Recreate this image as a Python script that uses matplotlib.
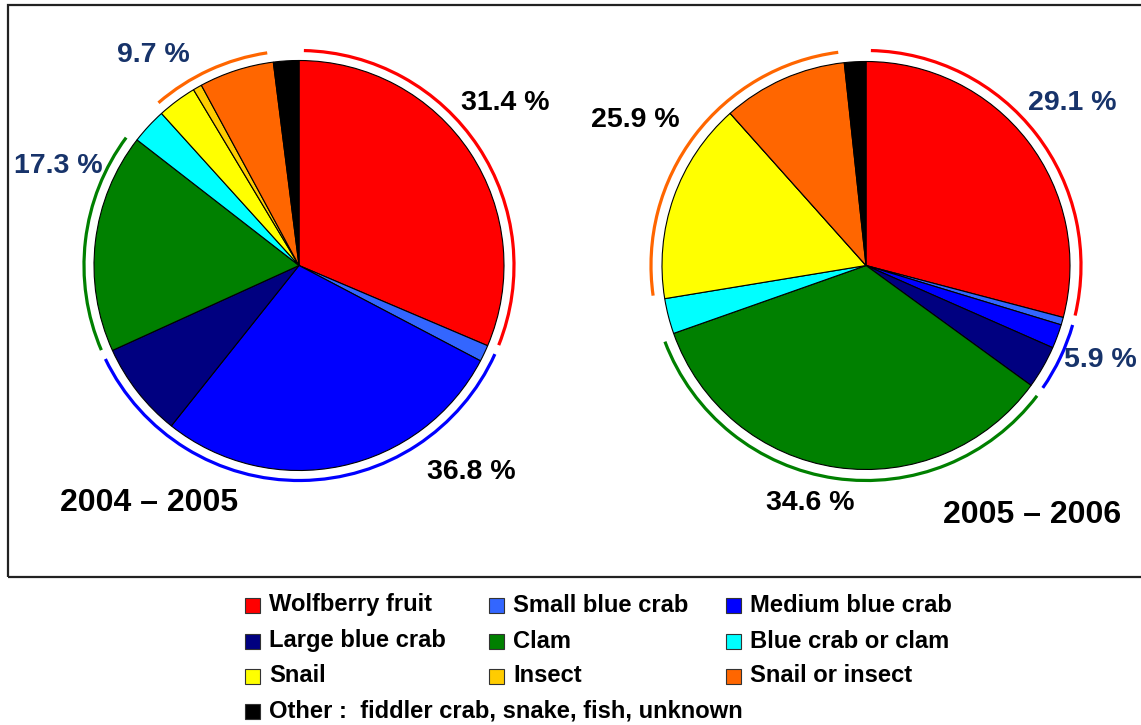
import matplotlib
matplotlib.use('Agg')
import matplotlib.pyplot as plt
from matplotlib.patches import Arc, Rectangle
import numpy as np

# ---------------- data ----------------
categories = ['Wolfberry fruit', 'Small blue crab', 'Medium blue crab',
              'Large blue crab', 'Clam', 'Blue crab or clam',
              'Snail', 'Insect', 'Snail or insect',
              'Other :  fiddler crab, snake, fish, unknown']
colors = ['#FF0000', '#3366FF', '#0000FF', '#000080', '#008000', '#00FFFF',
          '#FFFF00', '#FFCC00', '#FF6600', '#000000']
share_2004_2005 = [31.4, 1.3, 28.0, 7.5, 17.3, 2.8, 3.1, 0.7, 5.9, 2.0]
share_2005_2006 = [29.1, 0.6, 1.9, 3.4, 34.6, 2.8, 16.0, 0.0, 9.9, 1.7]
season_titles = ['2004 – 2005', '2005 – 2006']

# grouped outer arcs: member categories and arc colour
group_members = [[0], [1, 2, 3], [4], [6, 7, 8]]
group_colors = ['#FF0000', '#0000FF', '#008000', '#FF6600']
group_labels_2004 = ['31.4 %', '36.8 %', '17.3 %', '9.7 %']
group_labels_2006 = ['29.1 %', '5.9 %', '34.6 %', '25.9 %']

# ---------------- layout (pixel space) ----------------
W, H = 1141, 725
fig = plt.figure(figsize=(W / 100, H / 100), dpi=100)
ax = fig.add_axes([0, 0, 1, 1])

def Y(y):
    return H - y

navy = '#17336a'
FONT = 'Liberation Sans'

pies = [
    dict(values=share_2004_2005, center=(299, 265.5), r=205,
         labels=group_labels_2004,
         label_pos=[(505, 103), (471, 472), (58, 166), (153, 55)],
         label_col=['black', 'black', navy, navy],
         title=season_titles[0], title_pos=(149, 503)),
    dict(values=share_2005_2006, center=(866, 265.5), r=204,
         labels=group_labels_2006,
         label_pos=[(1072, 103), (1100, 360), (810, 503), (635, 120)],
         label_col=[navy, navy, 'black', 'black'],
         title=season_titles[1], title_pos=(1032, 515)),
]

arc_r = 215
gap = 1.3
for p in pies:
    cx, cy = p['center']
    vals = np.array(p['values'], dtype=float)
    ax.pie(vals, colors=colors, startangle=90, counterclock=False,
           center=(cx, Y(cy)), radius=p['r'], frame=True,
           wedgeprops=dict(edgecolor='black', linewidth=0.8))
    cum = np.concatenate([[0], np.cumsum(vals)]) / vals.sum()
    for members, gc in zip(group_members, group_colors):
        s = cum[members[0]]
        e = cum[members[-1] + 1]
        t1 = 90 - 360 * e + gap
        t2 = 90 - 360 * s - gap
        ax.add_patch(Arc((cx, Y(cy)), 2 * arc_r, 2 * arc_r, theta1=t1, theta2=t2,
                         color=gc, linewidth=2.3))
    for lab, (lx, ly), lc in zip(p['labels'], p['label_pos'], p['label_col']):
        ax.text(lx, Y(ly), lab, ha='center', va='center', fontsize=20.5,
                fontweight='bold', color=lc, family=FONT)
    tx, ty = p['title_pos']
    ax.text(tx, Y(ty), p['title'], ha='center', va='center', fontsize=23,
            fontweight='bold', color='black', family=FONT)

# frame around plot area
ax.add_patch(Rectangle((8, Y(577)), 1145 - 8, 577 - 5, fill=False,
                       edgecolor='#222222', linewidth=1.6))

# ---------------- legend ----------------
col_x = [245, 489, 726]
row_y = [605, 641, 676, 711]
msize = 15
for i, (lab, c) in enumerate(zip(categories, colors)):
    r, k = divmod(i, 3)
    mx, my = col_x[k], row_y[r]
    ax.add_patch(Rectangle((mx, Y(my) - msize / 2), msize, msize,
                           facecolor=c, edgecolor='#333333', linewidth=0.8))
    ax.text(mx + msize + 9, Y(my), lab, ha='left', va='center', fontsize=17.1,
            fontweight='bold', color='black', family=FONT)

ax.set_xlim(0, W)
ax.set_ylim(0, H)
ax.set_aspect('auto')
ax.set_axis_off()
fig.savefig('out.png', dpi=100)
